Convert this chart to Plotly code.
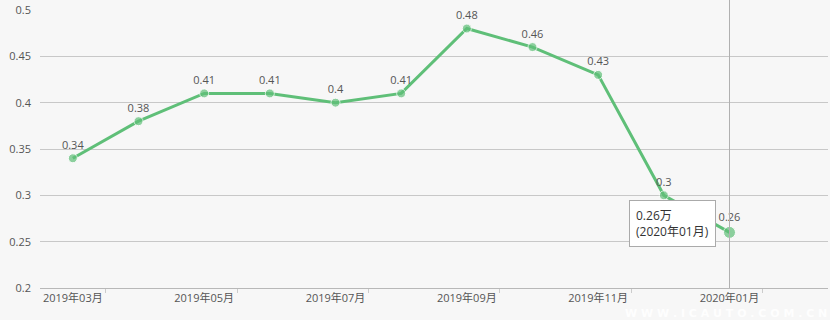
import plotly.graph_objects as go

months = ["2019年03月", "2019年04月", "2019年05月", "2019年06月", "2019年07月", "2019年08月",
          "2019年09月", "2019年10月", "2019年11月", "2019年12月", "2020年01月"]
values = [0.34, 0.38, 0.41, 0.41, 0.40, 0.41, 0.48, 0.46, 0.43, 0.30, 0.26]
labels = ["0.34", "0.38", "0.41", "0.41", "0.4", "0.41", "0.48", "0.46", "0.43", "0.3", "0.26"]
y_ticks = [0.2, 0.25, 0.3, 0.35, 0.4, 0.45, 0.5]
y_ticktext = ["0.2", "0.25", "0.3", "0.35", "0.4", "0.45", "0.5"]

idx = list(range(len(months)))
line_color = "#5fbf78"
font_family = "Open Sans, Noto Sans CJK SC, sans-serif"

fig = go.Figure()
fig.add_trace(go.Scatter(
    x=idx, y=values, mode="lines+markers+text",
    line=dict(color=line_color, width=3),
    marker=dict(color=line_color, size=[9] * (len(values) - 1) + [12]),
    text=labels, textposition="top center",
    textfont=dict(size=11, color="#555555", family=font_family),
    hoverinfo="skip", cliponaxis=False,
))

last = len(values) - 1
fig.add_shape(type="line", xref="x", yref="paper", x0=last, x1=last, y0=0, y1=1.036,
              line=dict(color="#b0b0b0", width=1))

fig.add_annotation(
    xref="x", yref="y", x=9.8, y=0.2955, xanchor="right", yanchor="top",
    text=f"{labels[last]}万<br>({months[last]})", showarrow=False, align="left",
    font=dict(size=12, color="#333333", family=font_family),
    bgcolor="#ffffff", bordercolor="#aaaaaa", borderwidth=1, borderpad=6,
)

fig.add_annotation(
    xref="paper", yref="paper", x=1.0, y=-0.12, xanchor="right", yanchor="bottom",
    text="<b>W W W . I C A U T O . C O M . C N</b>", showarrow=False, borderpad=0,
    font=dict(size=11, color="rgba(255,255,255,0.9)", family="DejaVu Sans"),
)

fig.update_layout(
    width=830, height=320,
    margin=dict(l=40, r=2, t=10, b=32),
    paper_bgcolor="#f7f7f7", plot_bgcolor="#f7f7f7",
    showlegend=False,
    font=dict(family=font_family, size=11, color="#555555"),
    xaxis=dict(
        range=[-0.5, 11.5], tickmode="array",
        tickvals=idx[::2], ticktext=months[::2],
        showgrid=False, zeroline=False,
        showline=True, linecolor="#b8b8b8", linewidth=1,
        ticks="", tickfont=dict(size=11, color="#555555"),
        minor=dict(tickmode="array", tickvals=[0.5, 2.5, 4.5, 6.5, 8.5, 10.5],
                   ticks="outside", ticklen=4, tickcolor="#cccccc", showgrid=False),
    ),
    yaxis=dict(
        range=[0.2, 0.5], tickmode="array", tickvals=y_ticks, ticktext=y_ticktext,
        showgrid=True, gridcolor="#c8c8c8", gridwidth=1, zeroline=False,
        showline=False, ticks="", ticklabelstandoff=8,
        tickfont=dict(size=11, color="#555555"),
    ),
)

fig.write_html("out.html")
